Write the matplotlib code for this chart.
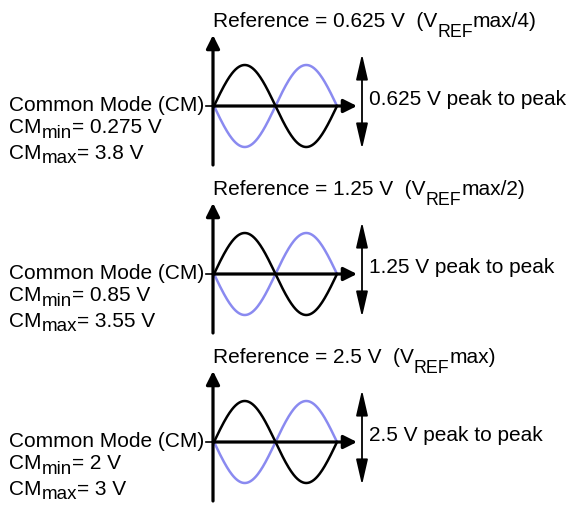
import numpy as np
from matplotlib import pyplot as plt
from matplotlib.patches import ArrowStyle

# Values shown in the three panels
ref_volts = ["0.625", "1.25", "2.5"]
ref_notes = ["max/4", "max/2", "max"]
cm_min = ["0.275", "0.85", "2"]
cm_max = ["3.8", "3.55", "3"]

plt.rcParams['font.family'] = ['Liberation Sans', 'DejaVu Sans']

fig = plt.figure(figsize=(5.67, 5.06), dpi=100)
ax = fig.add_axes([0, 0, 1, 1])
# one data unit = one pixel, y going down
ax.set_xlim(0, 567)
ax.set_ylim(506, 0)
ax.axis('off')
renderer = fig.canvas.get_renderer()

fs = 15
blue = '#8a8af0'


def pieces(x, y, parts):
    # write text pieces one after the other: (string, size factor, drop in px)
    for s, k, dy in parts:
        t = ax.text(x, y + dy, s, fontsize=fs * k, va='baseline', ha='left')
        x += t.get_window_extent(renderer=renderer).width


# one period of the wave
t = np.linspace(0, 2 * np.pi, 200)
x0, x1 = 214, 337
amp = 41
axis_x = 213

for i in range(len(ref_volts)):
    y0 = 107 + 168 * i  # horizontal axis position of this panel

    # title
    pieces(213, y0 - 80, [("Reference = " + ref_volts[i] + " V  (V", 1, 0),
                          ("REF", 0.85, 10),
                          (ref_notes[i] + ")", 1, 0)])

    # the two waves
    xs = x0 + (x1 - x0) * t / (2 * np.pi)
    ax.plot(xs, y0 + amp * np.sin(t), color=blue, lw=1.8, zorder=2)
    ax.plot(xs, y0 - amp * np.sin(t), color='black', lw=1.8, zorder=2)

    # axes with arrows
    ax.annotate('', xy=(axis_x, y0 - 71), xytext=(axis_x, y0 + 59),
                arrowprops=dict(arrowstyle='-|>', lw=2.3, color='black', mutation_scale=20,
                                shrinkA=0, shrinkB=0), zorder=3)
    ax.annotate('', xy=(357, y0), xytext=(axis_x, y0),
                arrowprops=dict(arrowstyle='-|>', lw=2.3, color='black', mutation_scale=20,
                                shrinkA=0, shrinkB=0), zorder=3)
    ax.plot([206, axis_x], [y0, y0], color='black', lw=1.2)

    # peak to peak double arrow
    ax.annotate('', xy=(362, y0 - 52), xytext=(362, y0 + 43),
                arrowprops=dict(arrowstyle=ArrowStyle('<|-|>', head_length=1.3, head_width=0.3),
                                lw=1.3, color='black', mutation_scale=12, shrinkA=0, shrinkB=0))
    ax.text(369, y0 - 2, ref_volts[i] + " V peak to peak", fontsize=fs, va='baseline', ha='left')

    # common mode labels
    ax.text(9, y0 + 4, "Common Mode (CM)", fontsize=fs, va='baseline', ha='left')
    pieces(9, y0 + 26, [("CM", 1, 0), ("min", 0.9, 5), ("= " + cm_min[i] + " V", 1, 0)])
    pieces(9, y0 + 52, [("CM", 1, 0), ("max", 0.9, 4), ("= " + cm_max[i] + " V", 1, 0)])

plt.savefig("out.png", dpi=100)
